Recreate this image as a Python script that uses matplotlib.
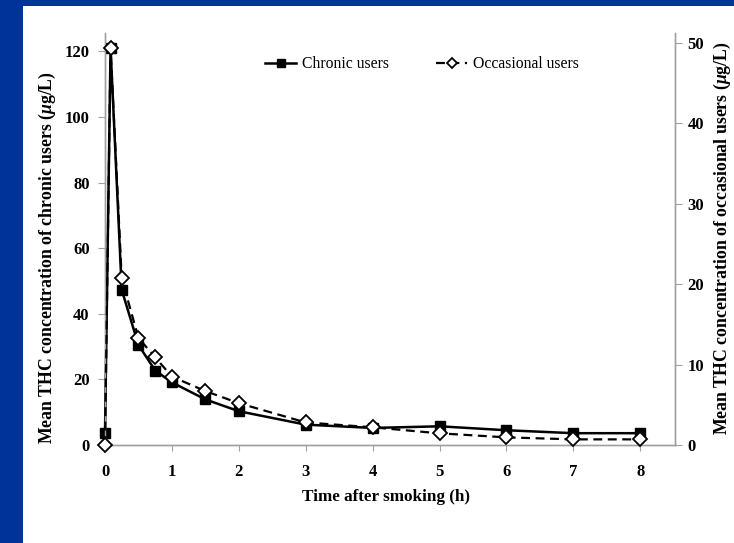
import matplotlib
matplotlib.use("Agg")
import matplotlib.pyplot as plt
from matplotlib.patches import Rectangle

plt.rcParams['font.family'] = ['Liberation Serif', 'DejaVu Serif']
plt.rcParams['mathtext.fontset'] = 'custom'
plt.rcParams['mathtext.rm'] = 'Liberation Serif:bold'
plt.rcParams['mathtext.it'] = 'Liberation Serif:italic:bold'
plt.rcParams['mathtext.bf'] = 'Liberation Serif:bold'

# Data
time_h = [0, 0.083, 0.25, 0.5, 0.75, 1, 1.5, 2, 3, 4, 5, 6, 7, 8]
chronic = [3.6, 121, 47.3, 30.5, 22.7, 19.1, 13.9, 10.3, 6.2, 5.2, 5.7, 4.5, 3.6, 3.6]
occasional = [0, 49.3, 20.7, 13.3, 10.9, 8.5, 6.7, 5.2, 2.8, 2.2, 1.45, 0.95, 0.7, 0.7]
xticks = [0, 1, 2, 3, 4, 5, 6, 7, 8]
left_ticks = [0, 20, 40, 60, 80, 100, 120]
right_ticks = [0, 10, 20, 30, 40, 50]

W, H = 734, 543
fig = plt.figure(figsize=(W / 100, H / 100), dpi=100)
fig.patch.set_facecolor('#003399')
bg = Rectangle((23 / W, 0), 1 - 23 / W, (H - 6) / H,
               transform=fig.transFigure, facecolor='white',
               edgecolor='none', zorder=-10)
fig.add_artist(bg)

left, right, bottom, top = 105, 675, 445, 33
ax = fig.add_axes([left / W, (H - bottom) / H, (right - left) / W, (bottom - top) / H])
ax.patch.set_alpha(0)
ax2 = ax.twinx()
ax2.patch.set_alpha(0)

gray = '#a0a0a0'
for a in (ax, ax2):
    for s in a.spines.values():
        s.set_color(gray)
        s.set_linewidth(1.0)
    a.spines['top'].set_visible(False)

l1, = ax.plot(time_h, chronic, color='black', lw=1.8, marker='s', ms=6.5,
              mfc='black', mec='black', label='Chronic users', clip_on=False, zorder=3)
l2, = ax2.plot(time_h, occasional, color='black', lw=1.6, ls=(0, (4, 2.5)), marker='D',
               ms=7, mfc='white', mec='black', mew=1.3, label='Occasional users',
               clip_on=False, zorder=4)

ax.set_xlim(0, 8.52)
ax.set_ylim(0, 125.6)
ax2.set_ylim(0, 51.2)
ax.set_xticks(xticks)
ax.set_yticks(left_ticks)
ax2.set_yticks(right_ticks)

ax.tick_params(axis='x', direction='out', length=4, color=gray, pad=10,
               labelsize=12)
ax.tick_params(axis='y', direction='out', length=5, color=gray, pad=6,
               labelsize=12)
ax2.tick_params(axis='y', direction='out', length=5, color=gray, pad=4,
                labelsize=12)
for lab in ax.get_xticklabels() + ax.get_yticklabels() + ax2.get_yticklabels():
    lab.set_fontweight('bold')

ax.set_xlabel('Time after smoking (h)', fontsize=12.3, fontweight='bold')
ax.xaxis.set_label_coords(0.493, -0.107)
ax.set_ylabel(r'Mean THC concentration of chronic users ($\mu$g/L)', fontsize=12.8,
              fontweight='bold')
ax.yaxis.set_label_coords(-0.083, 0.456)
ax2.set_ylabel(r'Mean THC concentration of occasional users ($\mu$g/L)', fontsize=12.8,
               fontweight='bold', rotation=90)
ax2.yaxis.set_label_coords(1.065, 0.501)

ax2.legend([l1, l2], ['Chronic users', 'Occasional users'], loc='center',
           bbox_to_anchor=(0.556, 0.924), ncol=2, frameon=False, fontsize=11.3,
           handlelength=2.0, handletextpad=0.35, columnspacing=3.0, markerscale=0.8)

fig.savefig('out.png', dpi=100, facecolor=fig.get_facecolor())
